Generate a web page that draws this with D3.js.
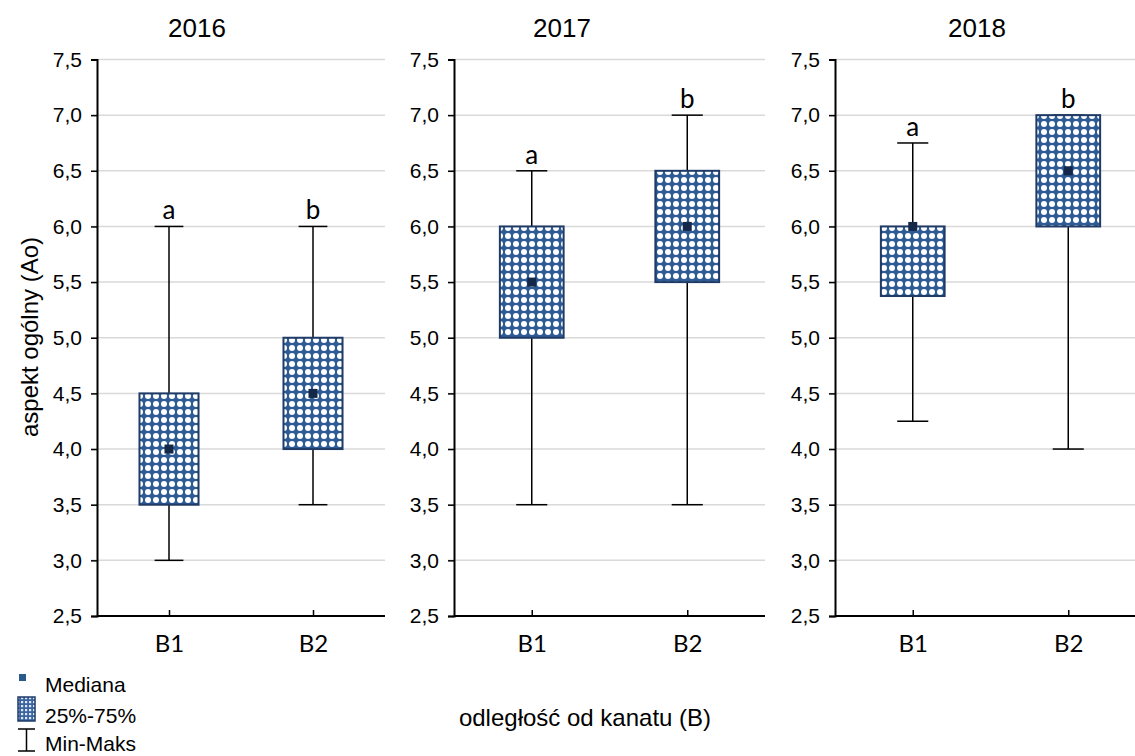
<!DOCTYPE html>
<html>
<head>
<meta charset="utf-8">
<script src="https://cdn.jsdelivr.net/npm/d3@7"></script>
<style>
  html, body { margin: 0; padding: 0; background: #fff; }
  svg { display: block; }
</style>
</head>
<body>
<svg id="chart" width="1135" height="756"></svg>
<script>
// Panel years and categories
const years = ["2016", "2017", "2018"];
const categories = ["B1", "B2"];

// Box statistics per year, in category order
const minVals    = [[3.0, 3.5], [3.5, 3.5], [4.25, 4.0]];
const q1Vals     = [[3.5, 4.0], [5.0, 5.5], [5.375, 6.0]];
const medianVals = [[4.0, 4.5], [5.5, 6.0], [6.0, 6.5]];
const q3Vals     = [[4.5, 5.0], [6.0, 6.5], [6.0, 7.0]];
const maxVals    = [[6.0, 6.0], [6.5, 7.0], [6.75, 7.0]];
const groupLetters = [["a", "b"], ["a", "b"], ["a", "b"]];

// Y axis ticks
const yTicks = [2.5, 3.0, 3.5, 4.0, 4.5, 5.0, 5.5, 6.0, 6.5, 7.0, 7.5];

const svg = d3.select("#chart");
const defs = svg.append("defs");

// Dotted fill used inside the boxes
const pat = defs.append("pattern")
  .attr("id", "dots")
  .attr("patternUnits", "userSpaceOnUse")
  .attr("width", 8).attr("height", 8);
pat.append("rect").attr("width", 8).attr("height", 8).attr("fill", "#2e5b94");
pat.append("circle").attr("cx", 4).attr("cy", 4).attr("r", 3.0).attr("fill", "#ffffff");

// Grid-like fill for the legend swatch
const pat2 = defs.append("pattern")
  .attr("id", "grid")
  .attr("patternUnits", "userSpaceOnUse")
  .attr("width", 4).attr("height", 4);
pat2.append("rect").attr("width", 4).attr("height", 4).attr("fill", "#3a64a0");
pat2.append("rect").attr("x", 1).attr("y", 1).attr("width", 2.2).attr("height", 2.2).attr("fill", "#dfe8f5");

const panels = [
  { x0: 97,  x1: 385,  titleX: 197 },
  { x0: 454, x1: 765,  titleX: 562 },
  { x0: 835, x1: 1146, titleX: 977 }
];
const yTop = 59.5, yBottom = 616;
const sans = "Liberation Sans, Arial, sans-serif";
const humanist = "Lato, Carlito, sans-serif";

const y = d3.scaleLinear().domain([2.5, 7.5]).range([yBottom, yTop]);
const fmt = v => d3.format(".1f")(v).replace(".", ",");

panels.forEach((p, i) => {
  const g = svg.append("g");
  const x = d3.scalePoint().domain(categories).range([p.x0, p.x1]).padding(0.5);
  const w = p.x1 - p.x0;
  const boxW = w * 0.205;
  const capW = w * 0.1;

  // horizontal gridlines
  g.selectAll("line.grid").data(yTicks.slice(1)).join("line")
    .attr("class", "grid")
    .attr("x1", p.x0 - 6).attr("x2", p.x1)
    .attr("y1", d => y(d)).attr("y2", d => y(d))
    .attr("stroke", "#d9d9d9").attr("stroke-width", 1.5);

  // y axis
  const ya = g.append("g")
    .attr("transform", `translate(${p.x0},0)`)
    .call(d3.axisLeft(y).tickValues(yTicks).tickFormat(fmt).tickSizeOuter(0).tickSize(6).tickPadding(9));
  ya.select(".domain").attr("stroke", "#000").attr("stroke-width", 2);
  ya.selectAll(".tick line").attr("stroke", "#000").attr("stroke-width", 1.5);
  ya.selectAll(".tick text").attr("font-family", sans)
    .attr("font-size", 21).attr("fill", "#000");

  // x axis
  const xa = g.append("g")
    .attr("transform", `translate(0,${yBottom})`)
    .call(d3.axisBottom(x).tickSizeInner(-6).tickSizeOuter(0).tickPadding(19));
  xa.select(".domain").attr("stroke", "#000").attr("stroke-width", 2)
    .attr("d", `M${p.x0},0H${Math.min(p.x1, 1135)}`);
  xa.selectAll(".tick line").attr("stroke", "#000").attr("stroke-width", 1.5);
  xa.selectAll(".tick text").attr("font-family", humanist)
    .attr("font-size", 24).attr("fill", "#000");

  const data = categories.map((c, j) => ({
    c, min: minVals[i][j], q1: q1Vals[i][j], med: medianVals[i][j],
    q3: q3Vals[i][j], max: maxVals[i][j], letter: groupLetters[i][j]
  }));

  // whiskers
  g.selectAll("line.whisker").data(data).join("line")
    .attr("x1", d => x(d.c)).attr("x2", d => x(d.c))
    .attr("y1", d => y(d.min)).attr("y2", d => y(d.max))
    .attr("stroke", "#000").attr("stroke-width", 1.5);
  g.selectAll("line.capTop").data(data).join("line")
    .attr("x1", d => x(d.c) - capW / 2).attr("x2", d => x(d.c) + capW / 2)
    .attr("y1", d => y(d.max)).attr("y2", d => y(d.max))
    .attr("stroke", "#000").attr("stroke-width", 1.5);
  g.selectAll("line.capBot").data(data).join("line")
    .attr("x1", d => x(d.c) - capW / 2).attr("x2", d => x(d.c) + capW / 2)
    .attr("y1", d => y(d.min)).attr("y2", d => y(d.min))
    .attr("stroke", "#000").attr("stroke-width", 1.5);

  // boxes
  g.selectAll("rect.box").data(data).join("rect")
    .attr("x", d => x(d.c) - boxW / 2).attr("width", boxW)
    .attr("y", d => y(d.q3)).attr("height", d => y(d.q1) - y(d.q3))
    .attr("fill", "url(#dots)").attr("stroke", "#1f3b66").attr("stroke-width", 2);

  // medians
  g.selectAll("rect.med").data(data).join("rect")
    .attr("x", d => x(d.c) - 4.5).attr("y", d => y(d.med) - 4.5)
    .attr("width", 9).attr("height", 9).attr("fill", "#14284a");

  // group letters
  g.selectAll("text.letter").data(data).join("text")
    .attr("x", d => x(d.c)).attr("y", d => y(d.max) - 7)
    .attr("text-anchor", "middle")
    .attr("font-family", humanist).attr("font-size", 26)
    .attr("fill", "#000").text(d => d.letter);

  // panel title
  svg.append("text").attr("x", p.titleX).attr("y", 37)
    .attr("text-anchor", "middle")
    .attr("font-family", sans).attr("font-size", 26)
    .text(years[i]);
});

// axis titles
svg.append("text")
  .attr("transform", "translate(38,337) rotate(-90)")
  .attr("text-anchor", "middle")
  .attr("font-family", sans).attr("font-size", 24)
  .text("aspekt ogólny (Ao)");
svg.append("text")
  .attr("x", 585).attr("y", 726)
  .attr("text-anchor", "middle")
  .attr("font-family", sans).attr("font-size", 24)
  .text("odległość od kanatu (B)");

// legend
const lg = svg.append("g").attr("font-family", sans).attr("font-size", 21);
lg.append("rect").attr("x", 19).attr("y", 674).attr("width", 7).attr("height", 7).attr("fill", "#2a5a8a");
lg.append("text").attr("x", 45).attr("y", 692).text("Mediana");
lg.append("rect").attr("x", 18).attr("y", 697).attr("width", 17).attr("height", 24)
  .attr("fill", "url(#grid)").attr("stroke", "#1f3b66").attr("stroke-width", 1.5);
lg.append("text").attr("x", 45).attr("y", 723).text("25%-75%");
lg.append("path").attr("d", "M18,729H35M26.5,729V751M18,751H35")
  .attr("fill", "none").attr("stroke", "#000").attr("stroke-width", 1.5);
lg.append("text").attr("x", 45).attr("y", 751).text("Min-Maks");
</script>
</body>
</html>
